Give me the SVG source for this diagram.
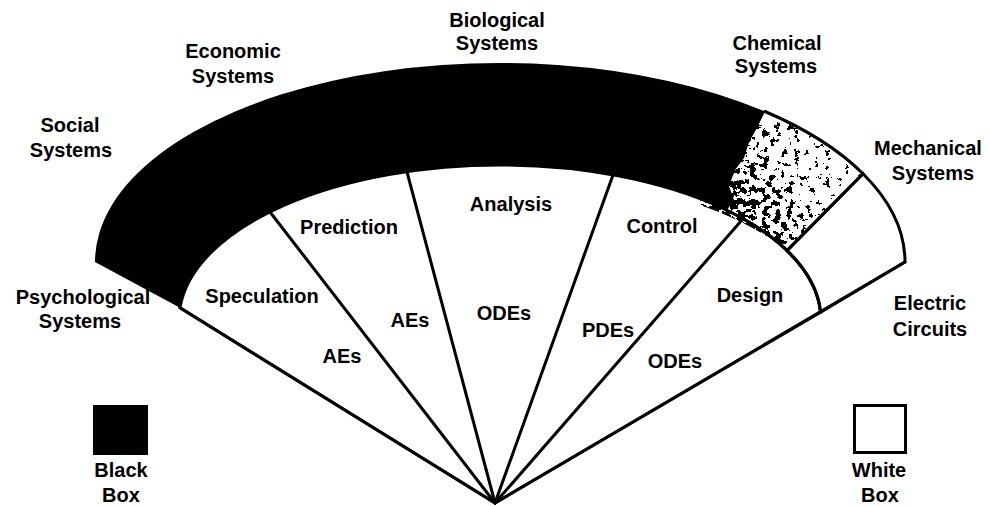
<svg xmlns="http://www.w3.org/2000/svg" width="990" height="506" viewBox="0 0 990 506">
  <defs>
    <style>
      text { font-family: "Liberation Sans", Arial, sans-serif; font-weight: bold; font-size: 20px; fill: #000; text-anchor: middle; }
      .edge { fill: none; stroke: #000; stroke-width: 3; stroke-linecap: round; stroke-linejoin: round; }
      .white { fill: #fff; stroke: #000; stroke-width: 3; stroke-linejoin: round; }
      .black { fill: #000; stroke: none; }
    </style>
    <!-- density of the speckle: heavy near the black band, thin towards the outer corner -->
    <linearGradient id="chemDensity" gradientUnits="userSpaceOnUse" x1="735" y1="215" x2="860" y2="140">
      <stop offset="0" stop-color="rgb(140,140,140)"/>
      <stop offset="0.3" stop-color="rgb(108,108,108)"/>
      <stop offset="0.65" stop-color="rgb(84,84,84)"/>
      <stop offset="1" stop-color="rgb(66,66,66)"/>
    </linearGradient>
    <filter id="speckle" filterUnits="userSpaceOnUse" x="700" y="100" width="180" height="160" color-interpolation-filters="sRGB">
      <feTurbulence type="fractalNoise" baseFrequency="0.16" numOctaves="4" seed="11" result="noise"/>
      <feColorMatrix in="noise" type="matrix" values="1 0 0 0 0  0 1 0 0 0  0 0 1 0 0  0 0 0 0 1" result="opaqueNoise"/>
      <feComposite in="opaqueNoise" in2="SourceGraphic" operator="arithmetic" k1="0" k2="1" k3="1" k4="-0.5" result="sum"/>
      <feColorMatrix in="sum" type="matrix" values="0 0 0 0 0  0 0 0 0 0  0 0 0 0 0  1 0 0 0 0" result="mask"/>
      <feComponentTransfer in="mask">
        <feFuncA type="discrete" tableValues="0 1"/>
      </feComponentTransfer>
    </filter>
    <clipPath id="chemClip">
      <path d="M 700,110 L 765,111.5 A 405 199 0 0 1 863,173.7 L 787,250.6 A 321 155 0 0 0 700,205 Z"/>
    </clipPath>
  </defs>

  <rect x="0" y="0" width="990" height="506" fill="#fff"/>

  <!-- fan of modelling purposes -->
  <g id="fan">
    <path class="white" d="M 495,503 L 180,307.8 A 321 155 0 0 1 820.6,312.2 Z"/>
  </g>

  <!-- labels round the outside of the fan (drawn first so the band overlaps them) -->
  <g id="system-labels">
    <g id="label-psychological"><text x="83" y="304">Psychological</text><text x="80" y="328">Systems</text></g>
    <g id="label-social"><text x="70" y="132">Social</text><text x="71" y="157">Systems</text></g>
    <g id="label-economic"><text x="233" y="58">Economic</text><text x="233" y="83">Systems</text></g>
    <g id="label-biological"><text x="497" y="27">Biological</text><text x="497" y="50">Systems</text></g>
    <g id="label-chemical"><text x="777" y="50">Chemical</text><text x="776" y="73">Systems</text></g>
    <g id="label-mechanical"><text x="928" y="155">Mechanical</text><text x="933" y="180">Systems</text></g>
    <g id="label-electric"><text x="930" y="310">Electric</text><text x="930" y="336">Circuits</text></g>
  </g>

  <!-- chemical systems: speckled part of the band -->
  <g id="chemical-band">
    <g clip-path="url(#chemClip)">
      <rect x="700" y="100" width="180" height="160" fill="url(#chemDensity)" filter="url(#speckle)"/>
    </g>
  </g>

  <!-- black-box band -->
  <g id="black-band">
    <path class="black" d="M 95,262 A 405 199 0 0 1 765,111.5 L 757,128 L 749,142 L 744,158 L 735,170 L 729,186 L 734,200 L 727,210 L 743,218.7 A 321 155 0 0 0 180,307.8 Z"/>
  </g>

  <!-- mechanical systems / electric circuits: white part of the band -->
  <g id="white-band">
    <path class="white" d="M 787,250.6 L 863,173.7 A 405 199 0 0 1 905,262 L 820.6,312.2 A 321 155 0 0 0 787,250.6 Z"/>
  </g>

  <g id="connectors">
    <path class="edge" d="M 765,111.5 A 405 199 0 0 1 863,173.7"/>
    <path class="edge" d="M 743,218.7 A 321 155 0 0 1 820.6,312.2"/>
    <line class="edge" x1="495" y1="503" x2="180" y2="307.8"/>
    <line class="edge" x1="495" y1="503" x2="270" y2="212"/>
    <line class="edge" x1="495" y1="503" x2="407" y2="172"/>
    <line class="edge" x1="495" y1="503" x2="613" y2="175"/>
    <line class="edge" x1="495" y1="503" x2="743" y2="218.7"/>
    <line class="edge" x1="495" y1="503" x2="905" y2="262"/>
    <line class="edge" x1="787" y1="250.6" x2="863" y2="173.7"/>
  </g>

  <!-- purposes and model types inside the fan -->
  <g id="sector-speculation"><text x="262" y="303">Speculation</text><text x="342" y="363">AEs</text></g>
  <g id="sector-prediction"><text x="349" y="234">Prediction</text><text x="410" y="327">AEs</text></g>
  <g id="sector-analysis"><text x="511" y="211">Analysis</text><text x="504" y="320">ODEs</text></g>
  <g id="sector-control"><text x="662" y="233">Control</text><text x="608" y="337">PDEs</text></g>
  <g id="sector-design"><text x="750" y="302">Design</text><text x="675" y="368">ODEs</text></g>

  <!-- legend -->
  <g id="legend-black">
    <rect x="93" y="405" width="55" height="50" fill="#000"/>
    <text x="121" y="477">Black</text><text x="121" y="502">Box</text>
  </g>
  <g id="legend-white">
    <rect x="854.5" y="405.5" width="51" height="47" fill="#fff" stroke="#000" stroke-width="3"/>
    <text x="879" y="477">White</text><text x="880" y="502">Box</text>
  </g>
</svg>
